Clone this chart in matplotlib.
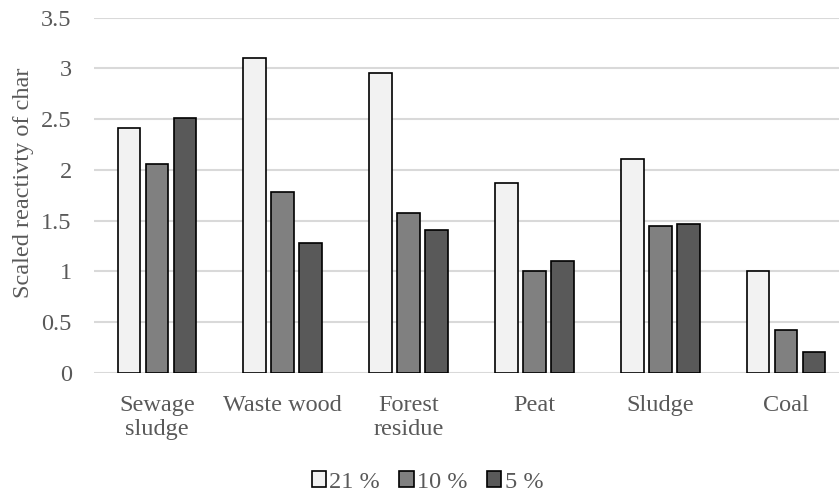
import matplotlib.pyplot as plt
import numpy as np

categories = ['Sewage\nsludge', 'Waste wood', 'Forest\nresidue', 'Peat', 'Sludge', 'Coal']
series_names = ['21 %', '10 %', '5 %']
o2_21 = [2.41, 3.10, 2.95, 1.87, 2.11, 1.00]
o2_10 = [2.06, 1.78, 1.58, 1.00, 1.45, 0.42]
o2_5 = [2.51, 1.28, 1.41, 1.10, 1.47, 0.21]
y_ticks = [0, 0.5, 1, 1.5, 2, 2.5, 3, 3.5]
y_tick_labels = ['0', '0.5', '1', '1.5', '2', '2.5', '3', '3.5']


def main():
    plt.rcParams['font.family'] = ['Liberation Serif', 'DejaVu Serif']
    text_color = '#595959'
    grid_color = '#d9d9d9'
    colors = ['#f2f2f2', '#808080', '#595959']
    fs = 17.5

    fig = plt.figure(figsize=(8.39, 4.94), dpi=100)
    ax = fig.add_axes([94 / 839, 1 - 373 / 494, 755 / 839, 355.5 / 494])

    x = np.arange(len(categories))
    step = 0.222
    width = 0.18
    for i, vals in enumerate([o2_21, o2_10, o2_5]):
        ax.bar(x + (i - 1) * step, vals, width, color=colors[i],
               edgecolor='black', linewidth=1.2, label=series_names[i], zorder=3)

    ax.set_xlim(-0.5, len(categories) - 0.5)
    ax.set_ylim(0, 3.5)
    ax.set_yticks(y_ticks)
    ax.set_yticklabels(y_tick_labels)
    ax.set_xticks(x)
    ax.set_xticklabels(categories, linespacing=1.15)
    ax.tick_params(axis='both', length=0, labelsize=fs, colors=text_color)
    ax.tick_params(axis='x', pad=16)
    ax.tick_params(axis='y', pad=16)

    ax.grid(axis='y', color=grid_color, linewidth=1.5, zorder=0)
    for side in ['top', 'right', 'left', 'bottom']:
        ax.spines[side].set_visible(False)

    ax.set_ylabel('Scaled reactivty of char', fontsize=fs, color=text_color)
    ax.yaxis.set_label_coords(-0.079, 0.536)

    leg = fig.legend(loc='center', bbox_to_anchor=(427.5 / 839, 1 - 482 / 494), ncol=3,
                     frameon=False, fontsize=fs, handlelength=0.58, handleheight=0.58,
                     handletextpad=0.15, columnspacing=0.8, labelcolor=text_color)
    for h in leg.legend_handles:
        h.set_linewidth(1.2)

    fig.savefig('out.png', dpi=100)


if __name__ == '__main__':
    main()
